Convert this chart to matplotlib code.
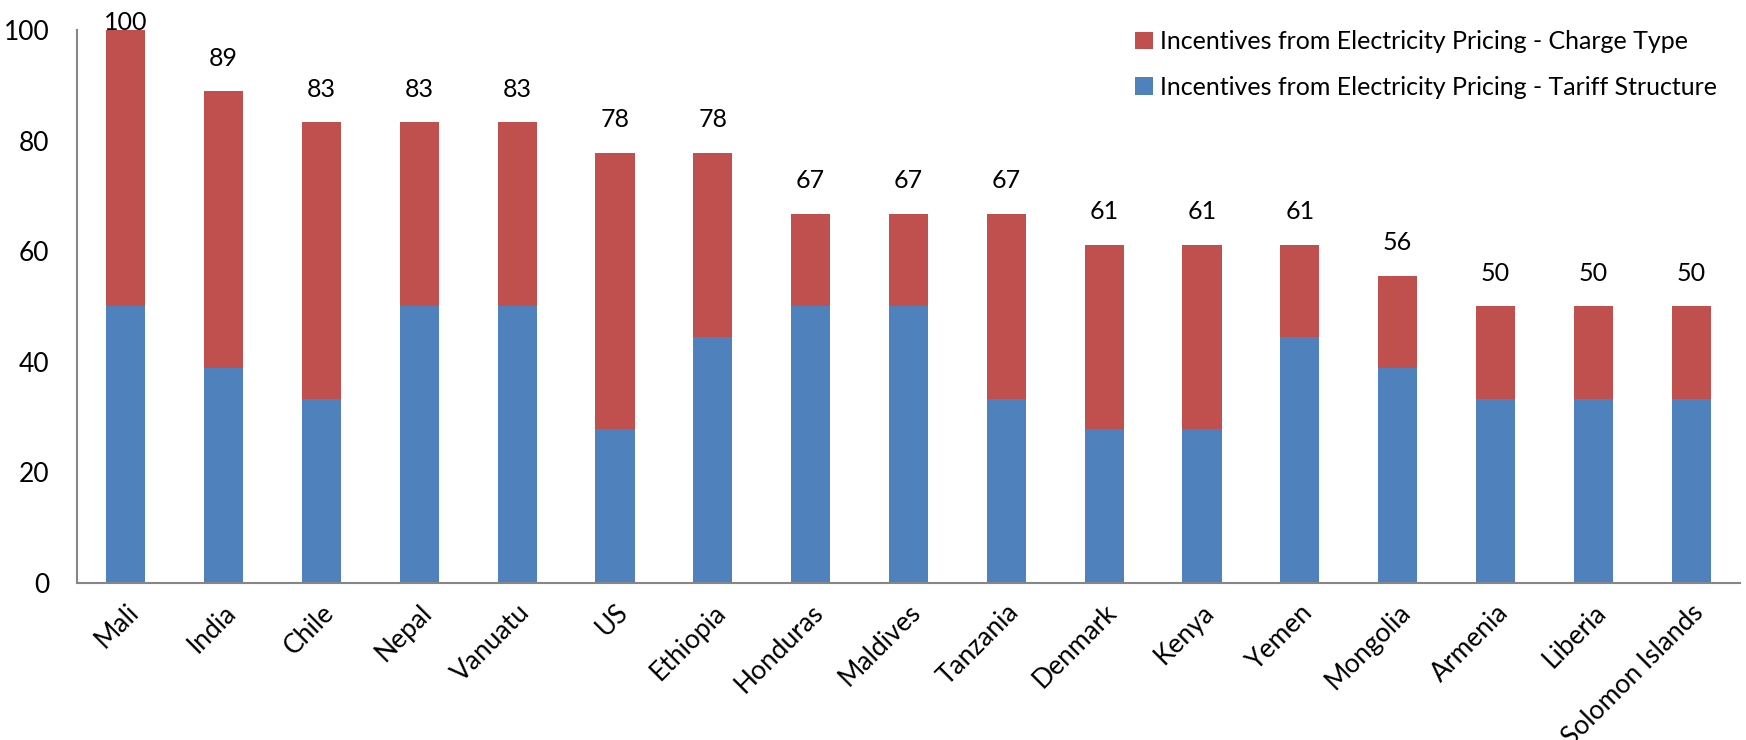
import matplotlib.pyplot as plt
import numpy as np

plt.rcParams['font.family'] = ['Lato', 'DejaVu Sans']

countries = ["Mali", "India", "Chile", "Nepal", "Vanuatu", "US", "Ethiopia", "Honduras",
             "Maldives", "Tanzania", "Denmark", "Kenya", "Yemen", "Mongolia", "Armenia",
             "Liberia", "Solomon Islands"]
tariff_structure = [50.0, 38.9, 33.3, 50.0, 50.0, 27.8, 44.4, 50.0,
                    50.0, 33.3, 27.8, 27.8, 44.4, 38.9, 33.3, 33.3, 33.3]
charge_type = [50.0, 50.0, 50.0, 33.3, 33.3, 50.0, 33.4, 16.7,
               16.7, 33.4, 33.3, 33.3, 16.7, 16.7, 16.7, 16.7, 16.7]

red = "#C0504D"
blue = "#4F81BD"

fig = plt.figure(figsize=(17.46, 7.40), dpi=100)
ax = fig.add_axes([77 / 1746, 1 - 583 / 740, (1740 - 77) / 1746, (583 - 30) / 740])

x = np.arange(len(countries))
totals = np.array(tariff_structure) + np.array(charge_type)

ax.bar(x, tariff_structure, width=0.4, color=blue, label="Incentives from Electricity Pricing - Tariff Structure")
ax.bar(x, charge_type, width=0.4, bottom=tariff_structure, color=red,
       label="Incentives from Electricity Pricing - Charge Type")

# total on top of each stack, kept inside the figure for the tallest one
for xi, t in zip(x, totals):
    ax.text(xi, min(t + 6, 101.4), "{:.0f}".format(t), ha="center", va="center",
            fontsize=18, clip_on=False)

ax.set_xlim(-0.5, len(countries) - 0.5)
ax.set_ylim(0, 100)
ax.set_yticks(range(0, 101, 20))
ax.tick_params(axis="y", length=0, pad=20, labelsize=19)
ax.tick_params(axis="x", length=0, pad=12, labelsize=19)
ax.set_xticks(x)
ax.set_xticklabels(countries, rotation=45, ha="right", va="top", rotation_mode="anchor")

for side in ["top", "right"]:
    ax.spines[side].set_visible(False)
for side in ["left", "bottom"]:
    ax.spines[side].set_color("#868686")
    ax.spines[side].set_linewidth(1.5)

handles, labels = ax.get_legend_handles_labels()
ax.legend(handles[::-1], labels[::-1], loc="upper right", bbox_to_anchor=(1.0, 1.04),
          frameon=False, fontsize=18, handlelength=0.7, handleheight=0.7,
          handletextpad=0.3, labelspacing=0.9)

plt.savefig("out.png")
